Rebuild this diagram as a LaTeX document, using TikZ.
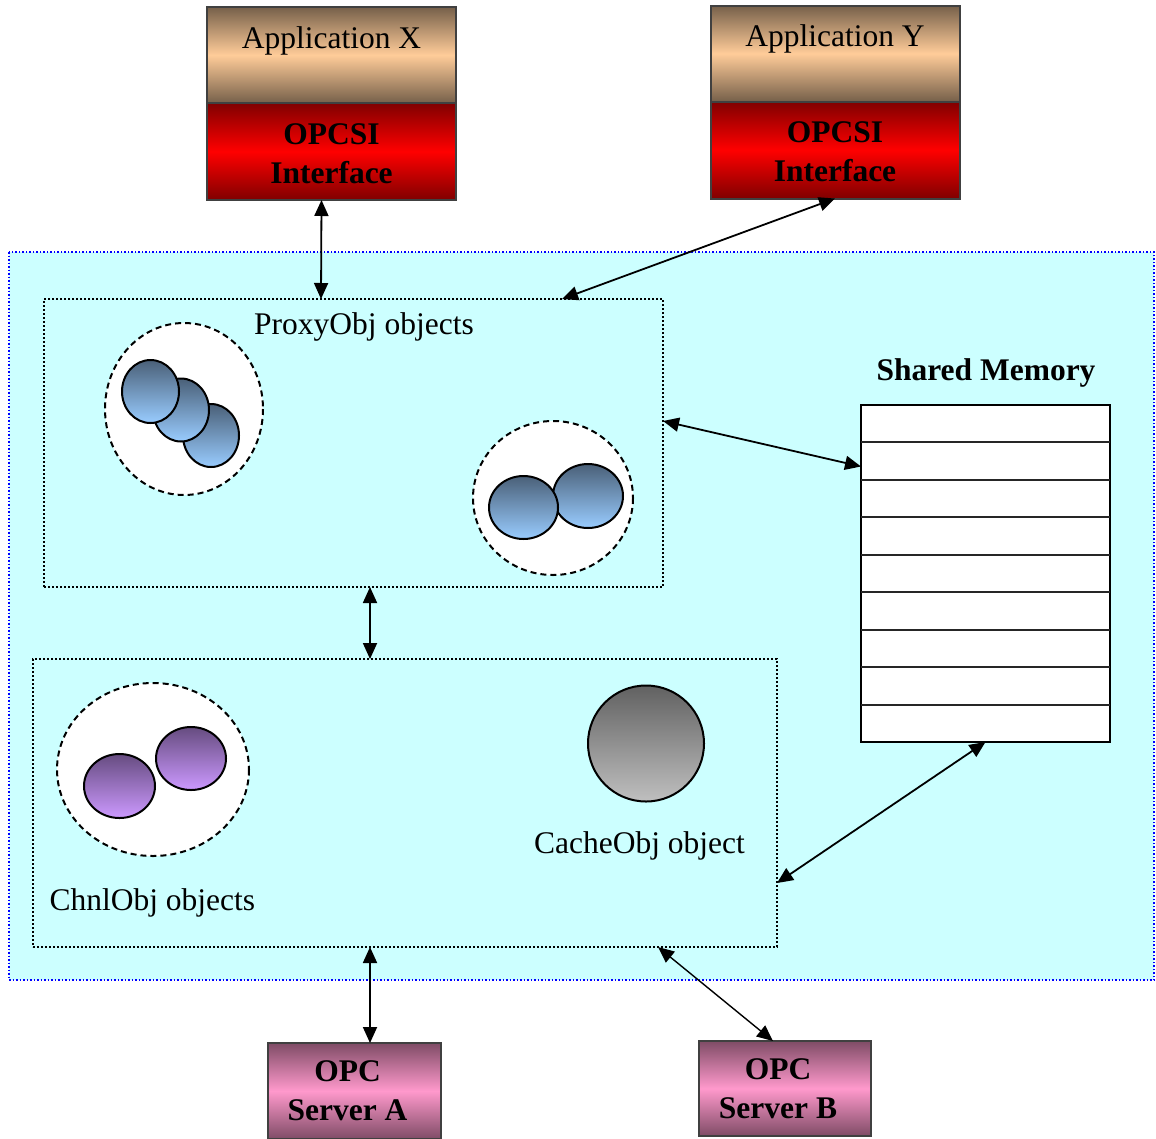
\documentclass[tikz,border=0pt]{standalone}
\usepackage{fontspec}
\setmainfont{Liberation Serif}
\usetikzlibrary{arrows.meta}

\definecolor{tanedge}{HTML}{76604A}
\definecolor{tanmid}{HTML}{FFCC99}
\definecolor{rededge}{HTML}{800000}
\definecolor{pinkedge}{HTML}{7F4C66}
\definecolor{pinkmid}{HTML}{FF99CC}
\definecolor{shm}{HTML}{CCFFFF}
\definecolor{bluetop}{HTML}{4A6078}
\definecolor{bluebot}{HTML}{99CCFF}
\definecolor{purptop}{HTML}{664C80}
\definecolor{purpbot}{HTML}{CC99FF}

\tikzset{
  txt/.style={font=\fontsize{31.5}{39}\selectfont},
  btxt/.style={font=\fontsize{31.5}{39}\selectfont\bfseries},
  box/.style={draw=black!75,line width=2pt,inner sep=0pt,outer sep=0pt,align=center},
  appbox/.style={box,minimum width=249pt,minimum height=96pt,
    top color=tanedge,bottom color=tanedge,middle color=tanmid},
  sibox/.style={box,minimum width=249pt,minimum height=97pt,
    top color=rededge,bottom color=rededge,middle color=red},
  srvbox/.style={box,minimum width=173pt,minimum height=96pt,
    top color=pinkedge,bottom color=pinkedge,middle color=pinkmid},
  area/.style={draw,dotted,line width=2pt,inner sep=0pt,outer sep=0pt},
  grp/.style={draw,fill=white,line width=2pt,dash pattern=on 6pt off 4pt},
  ball/.style={draw,line width=2pt,top color=bluetop,bottom color=bluebot},
  pball/.style={draw,line width=2pt,top color=purptop,bottom color=purpbot},
  link/.style={line width=1.8pt,{Triangle[length=16pt,width=14pt]}-{Triangle[length=16pt,width=14pt]}}
}

\begin{document}
\begin{tikzpicture}[x=1pt,y=-1pt]
  \useasboundingbox (0,0) rectangle (1156,1138);

  % shared region
  \draw[fill=shm,draw=blue,dotted,line width=1.5pt] (9,252) rectangle (1154,980);

  % applications
  \node[appbox,label={[txt,anchor=north,inner sep=0pt,yshift=-19pt]north:Application X}] (appX) at (331.5,55) {};
  \node[sibox,label={[btxt,align=center,yshift=-2pt]center:OPCSI\\Interface}] (siX) at (331.5,151.5) {};
  \node[appbox,label={[txt,anchor=north,inner sep=0pt,yshift=-19pt]north:Application Y}] (appY) at (835,53.5) {};
  \node[sibox,label={[btxt,align=center,yshift=-2pt]center:OPCSI\\Interface}] (siY) at (835,150) {};

  % proxy objects
  \node[area,minimum width=619pt,minimum height=288pt] (proxy) at (353.5,443) {};
  \node[txt] (proxylbl) at (364,327) {ProxyObj objects};
  \draw[grp] (184,409) ellipse [x radius=79, y radius=86];
  \draw[ball] (211,435.5) ellipse [x radius=28, y radius=31.5];
  \draw[ball] (181,410) ellipse [x radius=28, y radius=31.5];
  \draw[ball] (150.5,391.5) ellipse [x radius=28.5, y radius=31.5];
  \draw[grp] (553,498) ellipse [x radius=80, y radius=77];
  \draw[ball] (588,496) ellipse [x radius=35, y radius=32];
  \draw[ball] (523.5,507.5) ellipse [x radius=34.5, y radius=31.5];

  % channel and cache objects
  \node[area,minimum width=744pt,minimum height=288pt] (chnl) at (405,803) {};
  \draw[grp] (153,769.5) ellipse [x radius=96, y radius=86.5];
  \draw[pball] (119.5,786) ellipse [x radius=35.5, y radius=32];
  \draw[pball] (191,758.5) ellipse [x radius=35, y radius=31.5];
  \draw[line width=2pt,top color=black!62,bottom color=black!25] (646,743.5) circle [radius=58];
  \node[txt] (cachelbl) at (639.5,846) {CacheObj object};
  \node[txt,anchor=west] (chnllbl) at (46,903) {ChnlObj objects};

  % shared memory
  \node[btxt] (memlbl) at (986,373) {Shared Memory};
  \node[box,draw=black,fill=white,minimum width=249pt,minimum height=337pt] (mem) at (985.5,573.5) {};
  \foreach \i in {1,...,8}
    \draw[line width=2pt,black!85] ([yshift=-\i*37.44pt]mem.north west) -- ([yshift=-\i*37.44pt]mem.north east);

  % servers
  \node[srvbox,label={[btxt,align=center,xshift=-7pt]center:OPC\\Server A}] (srvA) at (354.5,1091) {};
  \node[srvbox,minimum width=172pt,minimum height=95pt,
    label={[btxt,align=center,xshift=-7pt]center:OPC\\Server B}] (srvB) at (785,1088.5) {};

  % connections
  \draw[link] ([xshift=-10pt]siX.south) -- (proxy.north -| 321,0);
  \draw[link] (siY.south) -- ([xshift=-101pt]proxy.north east);
  \draw[link] ([yshift=22pt]proxy.east) -- ([yshift=107pt]mem.west);
  \draw[link] (proxy.south -| 370,0) -- (chnl.north -| 370,0);
  \draw[link] (mem.south) -- ([yshift=-80pt]chnl.east);
  \draw[link] (chnl.south -| 370,0) -- (srvA.north -| 370,0);
  \draw[link,line width=1.4pt] ([xshift=-119pt]chnl.south east) -- ([xshift=-12pt]srvB.north);
\end{tikzpicture}
\end{document}
